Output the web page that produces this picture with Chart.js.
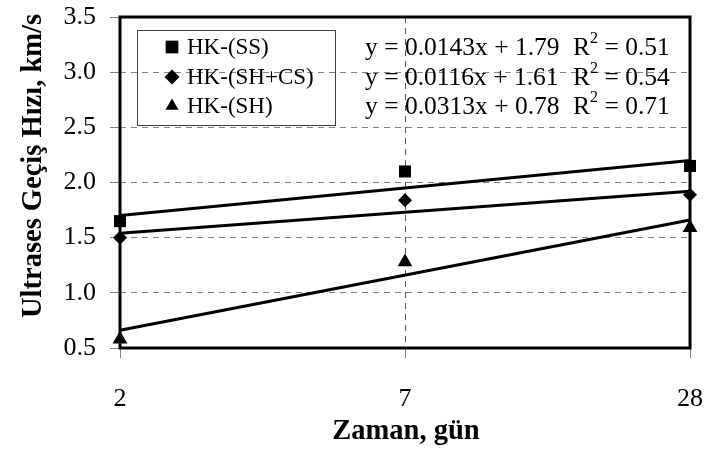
<!DOCTYPE html>
<html>
<head>
<meta charset="utf-8">
<script src="https://cdn.jsdelivr.net/npm/chart.js@4/dist/chart.umd.min.js"></script>
<style>
  html, body { margin: 0; padding: 0; background: #ffffff; }
  canvas { display: block; }
</style>
</head>
<body>
<canvas id="chart" width="707" height="453"></canvas>
<script>
// Curing time (days) and ultrasonic pulse velocity (km/s)
const days = ['2', '7', '28'];
const seriesNames = ['HK-(SS)', 'HK-(SH+CS)', 'HK-(SH)'];
const hkSS = [1.65, 2.10, 2.15];
const hkSHCS = [1.50, 1.84, 1.89];
const hkSH = [0.58, 1.28, 1.59];

// Linear trend line values at the first and last day
const trendSS = [1.70, 2.20];
const trendSHCS = [1.54, 1.92];
const trendSH = [0.66, 1.66];

// Trend equations and R² values
const equations = ['y = 0.0143x + 1.79', 'y = 0.0116x + 1.61', 'y = 0.0313x + 0.78'];
const rSquared = ['0.51', '0.54', '0.71'];

const yTitle = 'Ultrases Geçiş Hızı, km/s';
const xTitle = 'Zaman, gün';

const SERIF = '"Liberation Serif", "Times New Roman", Times, serif';

function endsToSeries(ends) {
  return [ends[0], null, ends[1]];
}

function markerSet(label, values, style, radius) {
  return {
    label: label,
    data: values,
    showLine: false,
    pointStyle: style,
    pointRadius: radius,
    pointHoverRadius: radius,
    backgroundColor: '#000000',
    borderColor: '#000000',
    borderWidth: 0,
    clip: false,
    order: 1
  };
}

function trendSet(values) {
  return {
    label: '',
    data: endsToSeries(values),
    spanGaps: true,
    pointRadius: 0,
    borderColor: '#000000',
    borderWidth: 3,
    fill: false,
    clip: false,
    isTrend: true,
    order: 2
  };
}

function drawMarker(ctx, style, x, y, r) {
  ctx.beginPath();
  if (style === 'rect') {
    const s = Math.SQRT1_2 * r;
    ctx.rect(x - s, y - s, 2 * s, 2 * s);
  } else if (style === 'rectRot') {
    ctx.moveTo(x, y - r);
    ctx.lineTo(x + r, y);
    ctx.lineTo(x, y + r);
    ctx.lineTo(x - r, y);
    ctx.closePath();
  } else if (style === 'triangle') {
    ctx.moveTo(x, y - r);
    ctx.lineTo(x + r * Math.sin(Math.PI / 3), y + r / 2);
    ctx.lineTo(x - r * Math.sin(Math.PI / 3), y + r / 2);
    ctx.closePath();
  }
  ctx.fillStyle = '#000000';
  ctx.fill();
}

// Plot frame, legend box, equations and axis titles
const decorations = {
  id: 'decorations',
  beforeDatasetsDraw(chart) {
    const { ctx, chartArea: a } = chart;
    ctx.save();
    ctx.strokeStyle = '#000000';
    ctx.lineWidth = 3;
    ctx.strokeRect(a.left, a.top, a.right - a.left, a.bottom - a.top);
    ctx.restore();
  },
  afterDraw(chart) {
    const { ctx, chartArea: a } = chart;
    ctx.save();

    // legend
    const lx = a.left + 17, ly = a.top + 13, lw = 198, lh = 95;
    ctx.strokeStyle = '#404040';
    ctx.lineWidth = 1;
    ctx.strokeRect(lx + 0.5, ly + 0.5, lw, lh);
    const rows = [ly + 17, ly + 47, ly + 76];
    ctx.font = '23px ' + SERIF;
    ctx.textBaseline = 'middle';
    ctx.textAlign = 'left';
    ctx.fillStyle = '#000000';
    chart.data.datasets.filter(d => !d.isTrend).forEach((d, i) => {
      const r = d.pointStyle === 'rect' ? 9 : 7.5;
      drawMarker(ctx, d.pointStyle, lx + 35, rows[i], r);
      ctx.fillStyle = '#000000';
      ctx.fillText(d.label, lx + 50, rows[i] + 1);
    });

    // trend equations
    const ex = a.left + 245, rx = a.left + 453;
    const eRows = [a.top + 31, a.top + 61, a.top + 90];
    equations.forEach((eq, i) => {
      ctx.font = '25.5px ' + SERIF;
      ctx.textBaseline = 'middle';
      ctx.fillText(eq, ex, eRows[i]);
      ctx.fillText('R', rx, eRows[i]);
      const rw = ctx.measureText('R').width;
      ctx.font = '16px ' + SERIF;
      ctx.fillText('2', rx + rw, eRows[i] - 9);
      const sw = ctx.measureText('2').width;
      ctx.font = '25.5px ' + SERIF;
      ctx.fillText(' = ' + rSquared[i], rx + rw + sw, eRows[i]);
    });

    // axis titles
    ctx.font = 'bold 28.5px ' + SERIF;
    ctx.textAlign = 'center';
    ctx.textBaseline = 'middle';
    ctx.fillText(xTitle, (a.left + a.right) / 2 + 1, 432);
    ctx.translate(34, 166);
    ctx.rotate(-Math.PI / 2);
    ctx.fillText(yTitle, 0, 0);
    ctx.restore();
  }
};

new Chart(document.getElementById('chart'), {
  type: 'line',
  data: {
    labels: days,
    datasets: [
      markerSet(seriesNames[0], hkSS, 'rect', 8.5),
      markerSet(seriesNames[1], hkSHCS, 'rectRot', 7),
      markerSet(seriesNames[2], hkSH, 'triangle', 8.5),
      trendSet(trendSS),
      trendSet(trendSHCS),
      trendSet(trendSH)
    ]
  },
  options: {
    responsive: false,
    animation: false,
    devicePixelRatio: 1,
    layout: { padding: { top: 17, right: 17, left: 0, bottom: 0 } },
    plugins: {
      legend: { display: false },
      tooltip: { enabled: false }
    },
    scales: {
      x: {
        type: 'category',
        offset: false,
        afterFit(scale) {
          scale.height = 105;
          scale.paddingLeft = 0;
          scale.paddingRight = 0;
        },
        grid: {
          color: '#555555',
          lineWidth: 1,
          tickLength: 10,
          tickColor: '#808080',
          tickBorderDash: [],
          offset: false
        },
        border: { display: false, dash: [6, 5] },
        ticks: {
          font: { family: SERIF, size: 26 },
          color: '#000000',
          padding: 26,
          maxRotation: 0
        }
      },
      y: {
        min: 0.5,
        max: 3.5,
        afterFit(scale) {
          scale.width = 120;
          scale.paddingTop = 0;
          scale.paddingBottom = 0;
        },
        grid: {
          color: '#808080',
          lineWidth: 1,
          tickLength: 10,
          tickColor: '#808080',
          tickBorderDash: []
        },
        border: { display: false, dash: [6, 5] },
        ticks: {
          stepSize: 0.5,
          font: { family: SERIF, size: 26 },
          color: '#000000',
          padding: 14,
          callback: v => Number(v).toFixed(1)
        }
      }
    }
  },
  plugins: [decorations]
});
</script>
</body>
</html>
